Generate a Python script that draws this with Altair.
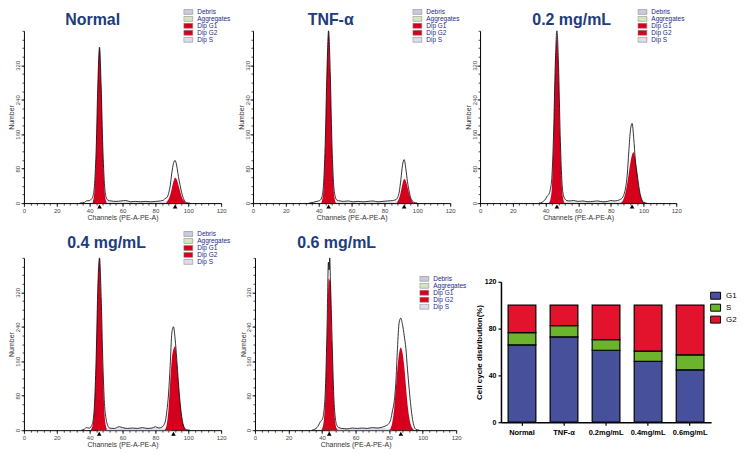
import altair as alt
import pandas as pd

# ---------------- data ----------------
TITLES = ["Normal", "TNF-α", "0.2 mg/mL", "0.4 mg/mL", "0.6 mg/mL"]
COMPONENTS = ["Debris", "Aggregates", "Dip G1", "Dip G2", "Dip S"]

# (channel, count) outline of the measured histogram (black line)
normal_line = [(34, 0), (37, 2), (38, 5), (40, 6), (41, 9), (42, 16), (43, 45), (44, 130), (45, 280), (46, 362),
               (47, 270), (48, 130), (49, 45), (50, 14), (51, 7), (53, 5), (56, 4), (59, 5), (62, 6), (65, 3),
               (68, 4), (71, 3), (74, 4), (77, 3), (80, 4), (83, 5), (85, 7), (86, 11), (87, 13), (88, 22),
               (89, 40), (90, 70), (91, 92), (92, 99), (93, 86), (94, 62), (95, 42), (96, 24), (97, 11), (98, 4),
               (99, 1), (101, 0)]
normal_g1 = [(41.5, 0), (42, 4), (43, 32), (44, 122), (45, 275), (46, 360), (47, 275), (48, 122), (49, 32), (50, 4), (50.5, 0)]
normal_g2 = [(86.5, 0), (87, 3), (88, 9), (89, 19), (90, 34), (91, 50), (92, 59), (93, 55), (94, 42), (95, 28),
             (96, 15), (97, 7), (98, 3), (99, 0)]
normal_s = [(45, 0), (47, 3), (50, 5), (55, 4), (60, 4), (65, 4), (70, 4), (75, 4), (80, 4), (85, 4), (89, 3), (93, 0)]
normal_peaks = [46, 92]

tnf_line = [(34, 0), (37, 2), (39, 4), (40, 5), (41, 7), (42, 15), (43, 48), (44, 145), (45, 305), (46, 400),
            (47, 305), (48, 145), (49, 48), (50, 16), (51, 7), (53, 5), (55, 4), (58, 5), (61, 3), (64, 4),
            (67, 3), (70, 4), (73, 5), (76, 3), (79, 4), (82, 5), (85, 6), (87, 8), (88, 13), (89, 26),
            (90, 55), (91, 88), (92, 101), (93, 80), (94, 50), (95, 28), (96, 12), (97, 5), (98, 2), (100, 0)]
tnf_g1 = [(41.5, 0), (42, 5), (43, 35), (44, 135), (45, 300), (46, 396), (47, 300), (48, 135), (49, 35), (50, 5), (50.5, 0)]
tnf_g2 = [(87.5, 0), (88, 4), (89, 12), (90, 27), (91, 45), (92, 56), (93, 52), (94, 38), (95, 22), (96, 10), (97, 4), (98, 0)]
tnf_s = [(45, 0), (47, 3), (50, 4), (55, 4), (60, 4), (65, 4), (70, 4), (75, 4), (80, 4), (85, 4), (88, 3), (91, 0)]
tnf_peaks = [46, 92]

c02_line = [(36, 0), (38, 2), (39, 5), (40, 9), (41, 16), (42, 20), (43, 32), (44, 65), (45, 165), (46, 320),
            (47, 400), (48, 320), (49, 160), (50, 55), (51, 18), (52, 9), (53, 6), (55, 5), (57, 6), (60, 4),
            (63, 5), (66, 3), (69, 4), (72, 5), (75, 3), (78, 4), (80, 6), (82, 5), (84, 6), (86, 9), (87, 12),
            (88, 20), (89, 35), (90, 65), (91, 120), (92, 170), (93, 185), (94, 150), (95, 100), (96, 70),
            (97, 42), (98, 20), (99, 8), (100, 2), (102, 0)]
c02_g1 = [(42, 0), (43, 8), (44, 40), (45, 150), (46, 310), (47, 387), (48, 310), (49, 150), (50, 40), (51, 8), (51.5, 0)]
c02_g2 = [(86, 0), (87, 4), (88, 12), (89, 25), (90, 45), (91, 70), (92, 95), (93, 113), (94, 118), (95, 100),
          (96, 70), (97, 40), (98, 20), (99, 8), (100, 2), (101, 0)]
c02_s = [(46, 0), (48, 3), (51, 5), (55, 4), (60, 4), (65, 4), (70, 4), (75, 4), (80, 4), (85, 4), (88, 3), (91, 0)]
c02_peaks = [47, 93]

c04_line = [(35, 0), (37, 3), (38, 6), (39, 5), (40, 5), (41, 9), (42, 20), (43, 65), (44, 175), (45, 335),
            (46, 400), (47, 310), (48, 160), (49, 62), (50, 26), (51, 11), (52, 5), (55, 4), (58, 8), (60, 6),
            (63, 4), (66, 5), (69, 4), (72, 6), (75, 4), (78, 5), (80, 8), (82, 5), (84, 7), (85, 11), (86, 20),
            (87, 45), (88, 84), (89, 150), (90, 225), (91, 240), (92, 212), (93, 165), (94, 112), (95, 66),
            (96, 32), (97, 12), (98, 4), (99, 1), (101, 0)]
c04_g1 = [(40.5, 0), (41, 3), (42, 15), (43, 60), (44, 170), (45, 330), (46, 398), (47, 300), (48, 140), (49, 40), (50, 8), (50.5, 0)]
c04_g2 = [(85.5, 0), (86, 2), (87, 15), (88, 50), (89, 110), (90, 165), (91, 188), (92, 195), (93, 160),
          (94, 110), (95, 65), (96, 32), (97, 12), (98, 4), (99, 0)]
c04_s = [(45, 0), (47, 3), (50, 5), (55, 4), (60, 5), (65, 4), (70, 5), (75, 4), (80, 5), (84, 4), (87, 3), (90, 0)]
c04_peaks = [45.8, 91]

c06_line = [(34, 0), (36, 3), (37, 6), (38, 12), (39, 20), (40, 24), (41, 40), (42, 95), (43, 240), (43.8, 390),
            (44.2, 372), (44.6, 400), (45, 350), (46, 210), (47, 80), (48, 26), (49, 10), (50, 6), (52, 4),
            (55, 3), (58, 5), (61, 4), (64, 5), (67, 4), (70, 6), (73, 5), (76, 7), (78, 10), (79, 12), (80, 16),
            (81, 25), (82, 45), (83, 65), (84, 110), (85, 190), (86, 250), (87, 260), (88, 245), (89, 220),
            (90, 190), (91, 140), (92, 95), (93, 55), (94, 25), (95, 8), (96, 2), (98, 0)]
c06_g1 = [(39.5, 0), (40, 3), (41, 20), (42, 80), (43, 220), (44, 352), (45, 340), (46, 200), (47, 70), (48, 15), (49, 2), (49.5, 0)]
c06_g2 = [(80, 0), (81, 5), (82, 20), (83, 50), (84, 95), (85, 145), (86, 180), (87, 192), (88, 180), (89, 150),
          (90, 105), (91, 60), (92, 30), (93, 12), (94, 4), (95, 0)]
c06_s = [(44, 0), (46, 3), (49, 5), (55, 4), (60, 4), (65, 4), (70, 5), (75, 5), (79, 4), (82, 0)]
c06_peaks = [44.3, 87]

# stacked bar chart (cell cycle distribution, %)
GROUPS = ["Normal", "TNF-α", "0.2mg/mL", "0.4mg/mL", "0.6mg/mL"]
PHASES = ["G1", "S", "G2"]
G1_PCT = [66.1, 72.9, 61.5, 51.9, 44.8]
S_PCT = [10.5, 9.7, 9.1, 8.8, 12.8]
G2_PCT = [23.4, 17.4, 29.4, 39.3, 42.4]

X_MAJOR = [0, 20, 40, 60, 80, 100, 120]
X_MINOR = list(range(0, 121, 4))
Y_MAJOR = [0, 80, 160, 240, 320]
Y_MINOR = list(range(0, 401, 20))
BAR_TICKS = [0, 40, 80, 120]

# ---------------- styles ----------------
FONT = "Liberation Sans"
RED = "#d4001e"
TITLE_BLUE = "#203c7c"
LEGEND_BLUE = "#1c2a87"
COMP_COLORS = ["#c9c9df", "#d5e6bf", RED, RED, "#dcdcee"]
PHASE_COLORS = ["#47509a", "#6cb42b", "#e3122d"]
HIST_H = 173
RECT_SMALL = "M-1,-0.55H1V0.55H-1Z"
RECT_BAR = "M-1,-0.7H1V0.7H-1Z"


def hist(title, line, g1, g2, s, peaks, width, xrange, lx, ly, tx, ty):
    rows = []
    for comp, pts in (("Dip S", s), ("Dip G1", g1), ("Dip G2", g2)):
        for ch, ct in pts:
            rows.append({"ch": ch, "ct": ct, "comp": comp})
    fill_df = pd.DataFrame(rows)
    line_df = pd.DataFrame(line, columns=["ch", "ct"])
    peak_df = pd.DataFrame({"ch": peaks})

    xs = alt.Scale(domain=[0, 120], range=[0, xrange], nice=False)
    ys = alt.Scale(domain=[0, 400], nice=False)
    common = dict(domainColor="black", tickColor="black", tickWidth=0.7, domainWidth=1, grid=False)

    x_major = alt.Axis(values=X_MAJOR, orient="bottom", tickSize=3.5, title="Channels (PE-A-PE-A)",
                       labelFontSize=6, labelPadding=1, titlePadding=0, titleFontSize=7, labelColor="#444",
                       titleColor="#333", titleFontWeight="normal", labelFont=FONT, titleFont=FONT,
                       labelFlush=False, **common)
    y_major = alt.Axis(values=Y_MAJOR, orient="left", tickSize=3, title="Number", labelFontSize=6,
                       labelPadding=0, titlePadding=0, titleFontSize=7, labelAngle=270, labelAlign="center",
                       labelBaseline="bottom", labelColor="#444", titleColor="#333", titleFontWeight="normal",
                       labelFont=FONT, titleFont=FONT, labelFlush=False, **common)
    x_minor = alt.Axis(values=X_MINOR, orient="bottom", tickSize=2, labels=False, domain=False, title=None,
                       tickColor="black", tickWidth=0.7, grid=False)
    y_minor = alt.Axis(values=Y_MINOR, orient="left", tickSize=2, labels=False, domain=False, title=None,
                       tickColor="black", tickWidth=0.7, grid=False)

    fills = alt.Chart(fill_df).mark_area(interpolate="monotone", opacity=1).encode(
        x=alt.X("ch:Q", scale=xs, axis=x_major),
        y=alt.Y("ct:Q", scale=ys, axis=y_major, stack=None),
        color=alt.Color("comp:N", scale=alt.Scale(domain=COMPONENTS, range=COMP_COLORS),
                        legend=alt.Legend(orient="none", legendX=lx, legendY=ly, title=None,
                                          symbolType=RECT_SMALL, symbolSize=81, symbolStrokeColor="#888",
                                          symbolStrokeWidth=0.6, symbolOpacity=1, labelFontSize=6.5,
                                          labelColor=LEGEND_BLUE, labelFont=FONT, rowPadding=0,
                                          clipHeight=6, labelOffset=4)),
    )
    outline = alt.Chart(line_df).mark_line(color="black", strokeWidth=0.8, interpolate="monotone").encode(
        x=alt.X("ch:Q", scale=xs, axis=x_minor),
        y=alt.Y("ct:Q", scale=ys, axis=y_minor))
    marks = alt.Chart(peak_df).mark_point(shape="triangle-up", filled=True, color="black", size=22, opacity=1).encode(
        x=alt.X("ch:Q", scale=xs, axis=None), y=alt.value(HIST_H + 3.5))
    head = alt.Chart(pd.DataFrame({"t": [title]})).mark_text(
        font=FONT, fontSize=16, fontWeight="bold", color=TITLE_BLUE, align="center", baseline="alphabetic"
    ).encode(text="t:N", x=alt.value(tx), y=alt.value(ty))
    return alt.layer(fills, outline, marks, head).resolve_scale(x="independent", y="independent").properties(
        width=width, height=HIST_H)


p1 = hist(TITLES[0], normal_line, normal_g1, normal_g2, normal_s, normal_peaks, 200, 198, 160, -22, 69, -6)
p2 = hist(TITLES[1], tnf_line, tnf_g1, tnf_g2, tnf_s, tnf_peaks, 198, 198, 160, -22, 78, -6)
p3 = hist(TITLES[2], c02_line, c02_g1, c02_g2, c02_s, c02_peaks, 198, 197, 158, -22, 92, -6)
p4 = hist(TITLES[3], c04_line, c04_g1, c04_g2, c04_s, c04_peaks, 198, 198, 160, -27, 83, -10)
p5 = hist(TITLES[4], c06_line, c06_g1, c06_g2, c06_s, c06_peaks, 213, 202, 165, 18, 82, -10)

bar_rows = []
for i, g in enumerate(GROUPS):
    for k, (ph, vals) in enumerate(zip(PHASES, (G1_PCT, S_PCT, G2_PCT))):
        bar_rows.append({"grp": g, "phase": ph, "val": vals[i], "ord": k})
bar_df = pd.DataFrame(bar_rows)

bar = alt.Chart(bar_df).mark_bar(stroke="black", strokeWidth=1.2).encode(
    x=alt.X("grp:N", sort=GROUPS, scale=alt.Scale(paddingInner=0.34, paddingOuter=0.17),
            axis=alt.Axis(title=None, labelAngle=0, labelFontWeight="bold", labelFontSize=7.5, labelFont=FONT,
                          labelColor="black", domainColor="black", domainWidth=1.5, tickColor="black",
                          tickWidth=1.2, tickSize=3, labelPadding=3)),
    y=alt.Y("val:Q", stack="zero", scale=alt.Scale(domain=[0, 120], range=[165, 24], nice=False),
            axis=alt.Axis(values=BAR_TICKS, title="Cell cycle distribution(%)", titleFontWeight="bold",
                          titleFontSize=8, titleFont=FONT, titleColor="black", labelFontWeight="bold",
                          labelFontSize=7, labelFont=FONT, labelColor="black", domainColor="black",
                          domainWidth=1.5, tickColor="black", tickWidth=1.2, tickSize=3, grid=False,
                          labelPadding=2, titlePadding=1)),
    color=alt.Color("phase:N", scale=alt.Scale(domain=PHASES, range=PHASE_COLORS),
                    legend=alt.Legend(orient="none", legendX=210, legendY=33, title=None, symbolType=RECT_BAR,
                                      symbolSize=100, symbolStrokeColor="black", symbolStrokeWidth=1,
                                      symbolOpacity=1, labelFontSize=8, labelFont=FONT, labelColor="black",
                                      rowPadding=2, clipHeight=10, labelOffset=5)),
    order=alt.Order("ord:Q"),
).properties(width=211, height=165)

row1 = alt.hconcat(p1, p2, p3, spacing=30, bounds="flush").resolve_scale(color="independent")
row2 = alt.hconcat(p4, p5, bar, spacing=34, bounds="flush").resolve_scale(color="independent")

chart = alt.vconcat(row1, row2, spacing=10).resolve_scale(color="independent").properties(
    padding=0, background="white").configure_view(strokeWidth=0)

chart.save("out.html", embed_options={"renderer": "svg", "actions": False})
